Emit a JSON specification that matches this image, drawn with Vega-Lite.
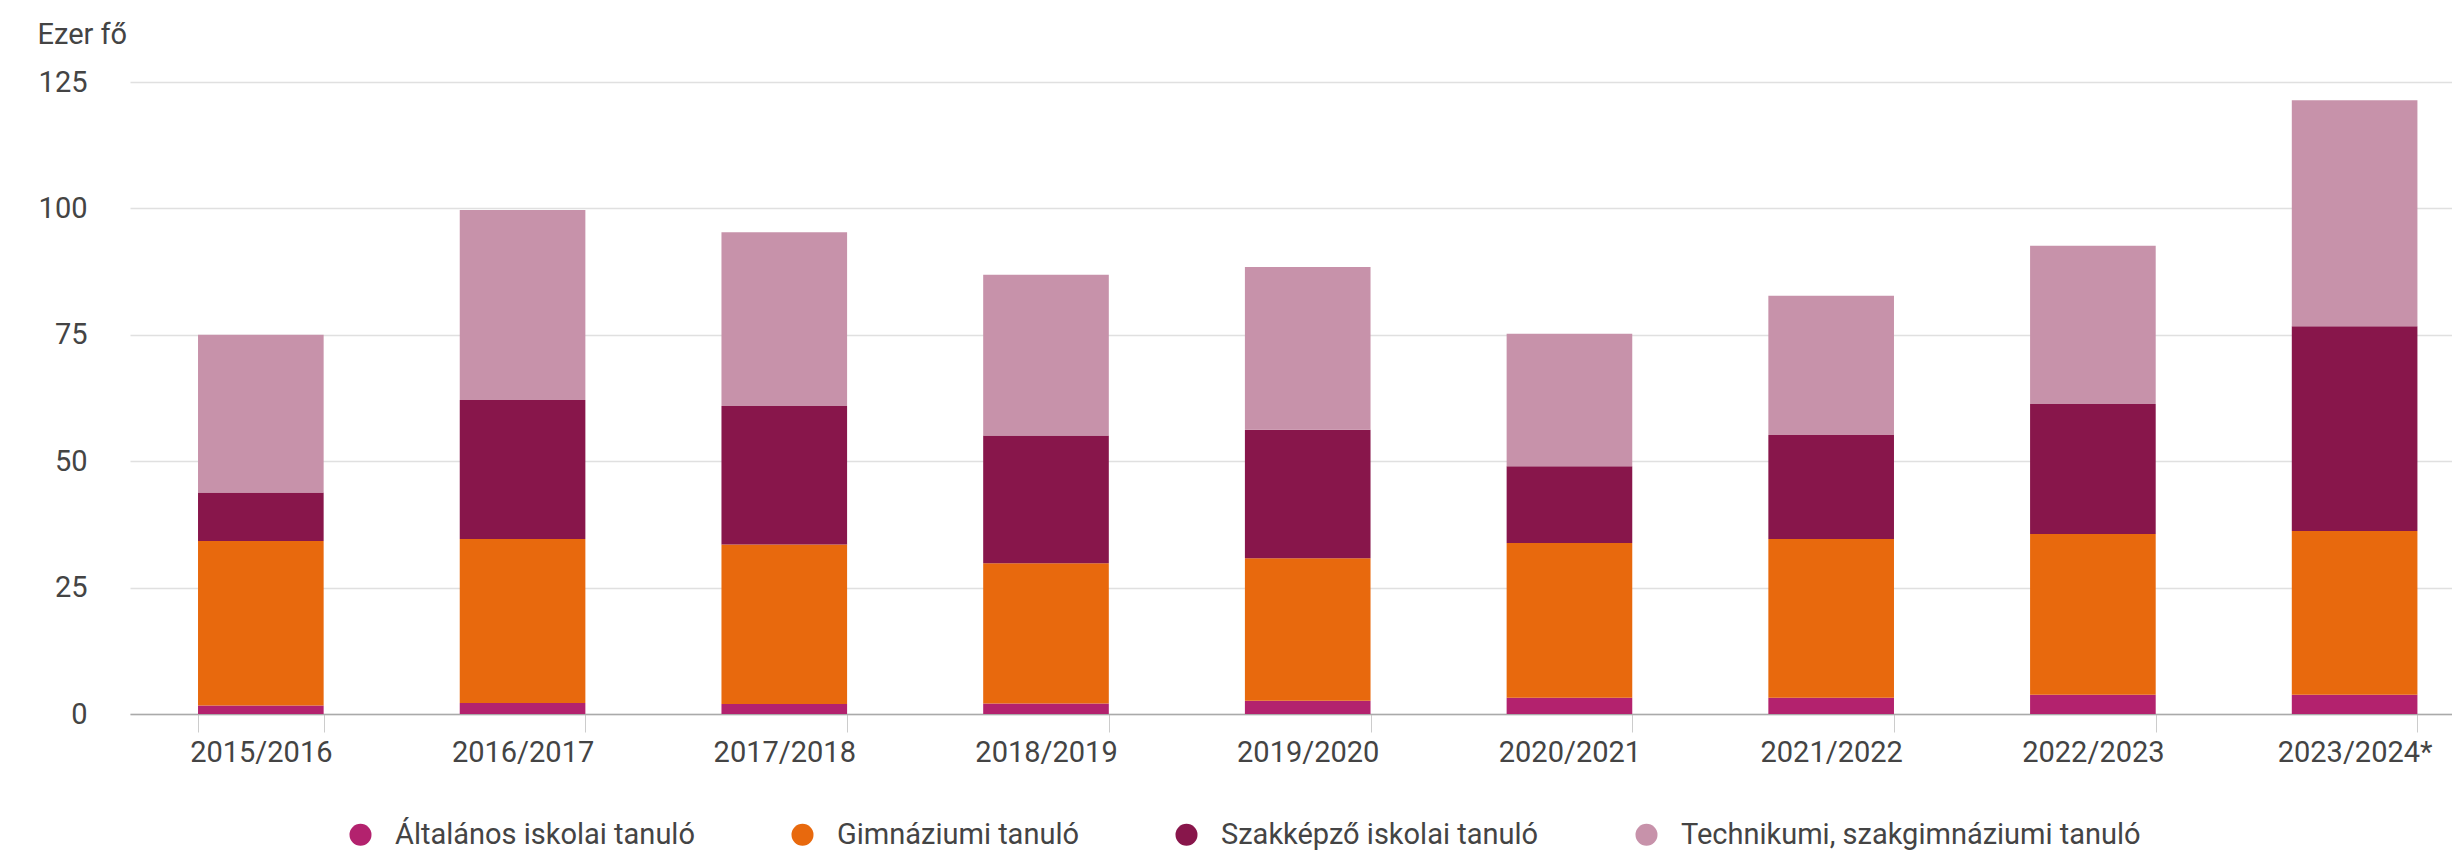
{
  "$schema": "https://vega.github.io/schema/vega-lite/v6.json",
  "width": 2322,
  "height": 632,
  "autosize": {"type": "none"},
  "padding": {"left": 130, "top": 82, "right": 0, "bottom": 139},
  "background": "white",
  "config": {
    "font": "Roboto",
    "view": {"stroke": null},
    "axis": {"labelFont": "Roboto", "titleFont": "Roboto", "labelColor": "#444444", "titleColor": "#444444"},
    "legend": {"labelFont": "Roboto", "labelColor": "#444444"}
  },
  "data": {
    "values": [
      {"year": "2015/2016", "category": "Általános iskolai tanuló", "value": 1.7},
      {"year": "2015/2016", "category": "Gimnáziumi tanuló", "value": 32.5},
      {"year": "2015/2016", "category": "Szakképző iskolai tanuló", "value": 9.6},
      {"year": "2015/2016", "category": "Technikumi, szakgimnáziumi tanuló", "value": 31.2},
      {"year": "2016/2017", "category": "Általános iskolai tanuló", "value": 2.2},
      {"year": "2016/2017", "category": "Gimnáziumi tanuló", "value": 32.4},
      {"year": "2016/2017", "category": "Szakképző iskolai tanuló", "value": 27.5},
      {"year": "2016/2017", "category": "Technikumi, szakgimnáziumi tanuló", "value": 37.6},
      {"year": "2017/2018", "category": "Általános iskolai tanuló", "value": 2.0},
      {"year": "2017/2018", "category": "Gimnáziumi tanuló", "value": 31.5},
      {"year": "2017/2018", "category": "Szakképző iskolai tanuló", "value": 27.4},
      {"year": "2017/2018", "category": "Technikumi, szakgimnáziumi tanuló", "value": 34.4},
      {"year": "2018/2019", "category": "Általános iskolai tanuló", "value": 2.1},
      {"year": "2018/2019", "category": "Gimnáziumi tanuló", "value": 27.7},
      {"year": "2018/2019", "category": "Szakképző iskolai tanuló", "value": 25.3},
      {"year": "2018/2019", "category": "Technikumi, szakgimnáziumi tanuló", "value": 31.8},
      {"year": "2019/2020", "category": "Általános iskolai tanuló", "value": 2.6},
      {"year": "2019/2020", "category": "Gimnáziumi tanuló", "value": 28.2},
      {"year": "2019/2020", "category": "Szakképző iskolai tanuló", "value": 25.4},
      {"year": "2019/2020", "category": "Technikumi, szakgimnáziumi tanuló", "value": 32.2},
      {"year": "2020/2021", "category": "Általános iskolai tanuló", "value": 3.2},
      {"year": "2020/2021", "category": "Gimnáziumi tanuló", "value": 30.6},
      {"year": "2020/2021", "category": "Szakképző iskolai tanuló", "value": 15.2},
      {"year": "2020/2021", "category": "Technikumi, szakgimnáziumi tanuló", "value": 26.2},
      {"year": "2021/2022", "category": "Általános iskolai tanuló", "value": 3.2},
      {"year": "2021/2022", "category": "Gimnáziumi tanuló", "value": 31.4},
      {"year": "2021/2022", "category": "Szakképző iskolai tanuló", "value": 20.6},
      {"year": "2021/2022", "category": "Technikumi, szakgimnáziumi tanuló", "value": 27.5},
      {"year": "2022/2023", "category": "Általános iskolai tanuló", "value": 3.8},
      {"year": "2022/2023", "category": "Gimnáziumi tanuló", "value": 31.8},
      {"year": "2022/2023", "category": "Szakképző iskolai tanuló", "value": 25.7},
      {"year": "2022/2023", "category": "Technikumi, szakgimnáziumi tanuló", "value": 31.3},
      {"year": "2023/2024*", "category": "Általános iskolai tanuló", "value": 3.8},
      {"year": "2023/2024*", "category": "Gimnáziumi tanuló", "value": 32.4},
      {"year": "2023/2024*", "category": "Szakképző iskolai tanuló", "value": 40.5},
      {"year": "2023/2024*", "category": "Technikumi, szakgimnáziumi tanuló", "value": 44.7}
    ]
  },
  "transform": [
    {"calculate": "indexof(['Általános iskolai tanuló', 'Gimnáziumi tanuló', 'Szakképző iskolai tanuló', 'Technikumi, szakgimnáziumi tanuló'], datum.category)", "as": "stackOrder"}
  ],
  "mark": {"type": "bar"},
  "encoding": {
    "x": {
      "field": "year",
      "type": "nominal",
      "sort": null,
      "scale": {"paddingInner": 0.52, "paddingOuter": 0.196, "align": 0.663},
      "axis": {
        "title": null,
        "labelAngle": 0,
        "labelFontSize": 29,
        "labelPadding": 6,
        "tickBand": "extent",
        "tickSize": 18,
        "tickColor": "#cccccc",
        "domainColor": "#aaaaaa",
        "domainWidth": 1.5,
        "grid": false
      }
    },
    "y": {
      "field": "value",
      "type": "quantitative",
      "stack": "zero",
      "scale": {"domain": [0, 125], "nice": false},
      "axis": {
        "values": [0, 25, 50, 75, 100, 125],
        "title": "Ezer fő",
        "titleAngle": 0,
        "titleX": -93,
        "titleY": -39,
        "titleAlign": "left",
        "titleBaseline": "alphabetic",
        "titleFontSize": 29,
        "titleFontWeight": "normal",
        "labelFontSize": 29,
        "labelPadding": 43,
        "domain": false,
        "ticks": false,
        "grid": true,
        "gridColor": "#e0e0e0",
        "gridWidth": 1.5
      }
    },
    "order": {"field": "stackOrder", "type": "quantitative", "sort": "ascending"},
    "color": {
      "field": "category",
      "type": "nominal",
      "sort": ["Általános iskolai tanuló", "Gimnáziumi tanuló", "Szakképző iskolai tanuló", "Technikumi, szakgimnáziumi tanuló"],
      "scale": {
        "domain": ["Általános iskolai tanuló", "Gimnáziumi tanuló", "Szakképző iskolai tanuló", "Technikumi, szakgimnáziumi tanuló"],
        "range": ["#b3226e", "#e8690d", "#88164b", "#c792aa"]
      },
      "legend": {
        "title": null,
        "orient": "none",
        "direction": "horizontal",
        "legendX": 216,
        "legendY": 738,
        "padding": 0,
        "symbolType": "circle",
        "symbolSize": 484,
        "symbolStrokeWidth": 0,
        "symbolOpacity": 1,
        "labelFontSize": 29,
        "labelOffset": 20,
        "labelLimit": 700,
        "columnPadding": 93
      }
    }
  }
}
